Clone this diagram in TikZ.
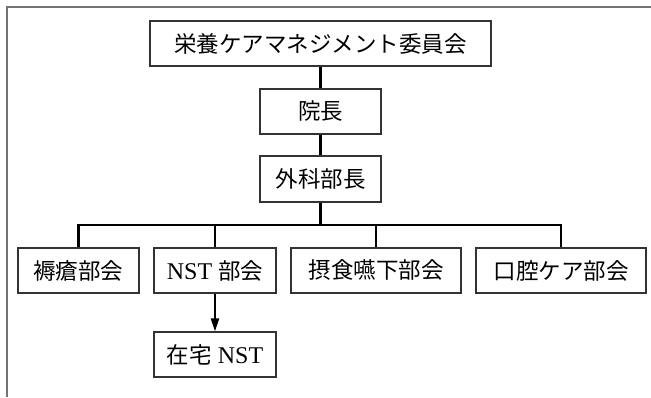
\documentclass[tikz,border=0pt]{standalone}
\usepackage{fontspec}
\setmainfont{Liberation Serif}
\newfontfamily\cjk{Noto Sans CJK JP}
\usetikzlibrary{arrows.meta}
\tikzset{
  box/.style={draw=black!80, line width=1.2pt, rectangle, inner sep=0pt, minimum height=45pt, font=\fontsize{24}{27}\selectfont, anchor=center},
  link/.style={draw=black, line width=2.2pt},
  frame/.style={draw=black!55, line width=1.6pt},
}
\newcommand{\jp}[1]{{\cjk\fontsize{22.5}{26}\selectfont #1}}
\begin{document}
\begin{tikzpicture}[x=1pt,y=-1pt]
\useasboundingbox (0,0) rectangle (651,397);
\draw[frame] (7,397) -- (7,7) -- (651,7);
\node[box, minimum width=341pt] (top) at (320.5,43.5) {\jp{栄養ケアマネジメント委員会}};
\node[box, minimum width=121pt] (incho) at (320.5,111.5) {\jp{院長}};
\node[box, minimum width=121pt, minimum height=46pt] (geka) at (320.5,179) {\jp{外科部長}};
\node[box, minimum width=121pt] (jokuso) at (78.5,270.5) {\jp{褥瘡部会}};
\node[box, minimum width=122pt] (nst) at (215,270.5) {NST \jp{部会}};
\node[box, minimum width=170pt] (sesshoku) at (376,270.5) {\jp{摂食嚥下部会}};
\node[box, minimum width=170pt] (koku) at (561,270.5) {\jp{口腔ケア部会}};
\node[box, minimum width=122pt] (zaitaku) at (215,354.5) {\jp{在宅} NST};
\coordinate (bar) at (320.5,225);
\draw[link] (top) -- (incho);
\draw[link] (incho) -- (geka);
\draw[link] (geka) -- (bar);
\draw[link] (jokuso.north) |- (bar) -| (koku.north);
\draw[link] (nst.north) |- (bar);
\draw[link] (sesshoku.north) |- (bar);
\draw[link, -{Triangle[length=13pt,width=8pt]}] (nst) -- (zaitaku);
\end{tikzpicture}
\end{document}
